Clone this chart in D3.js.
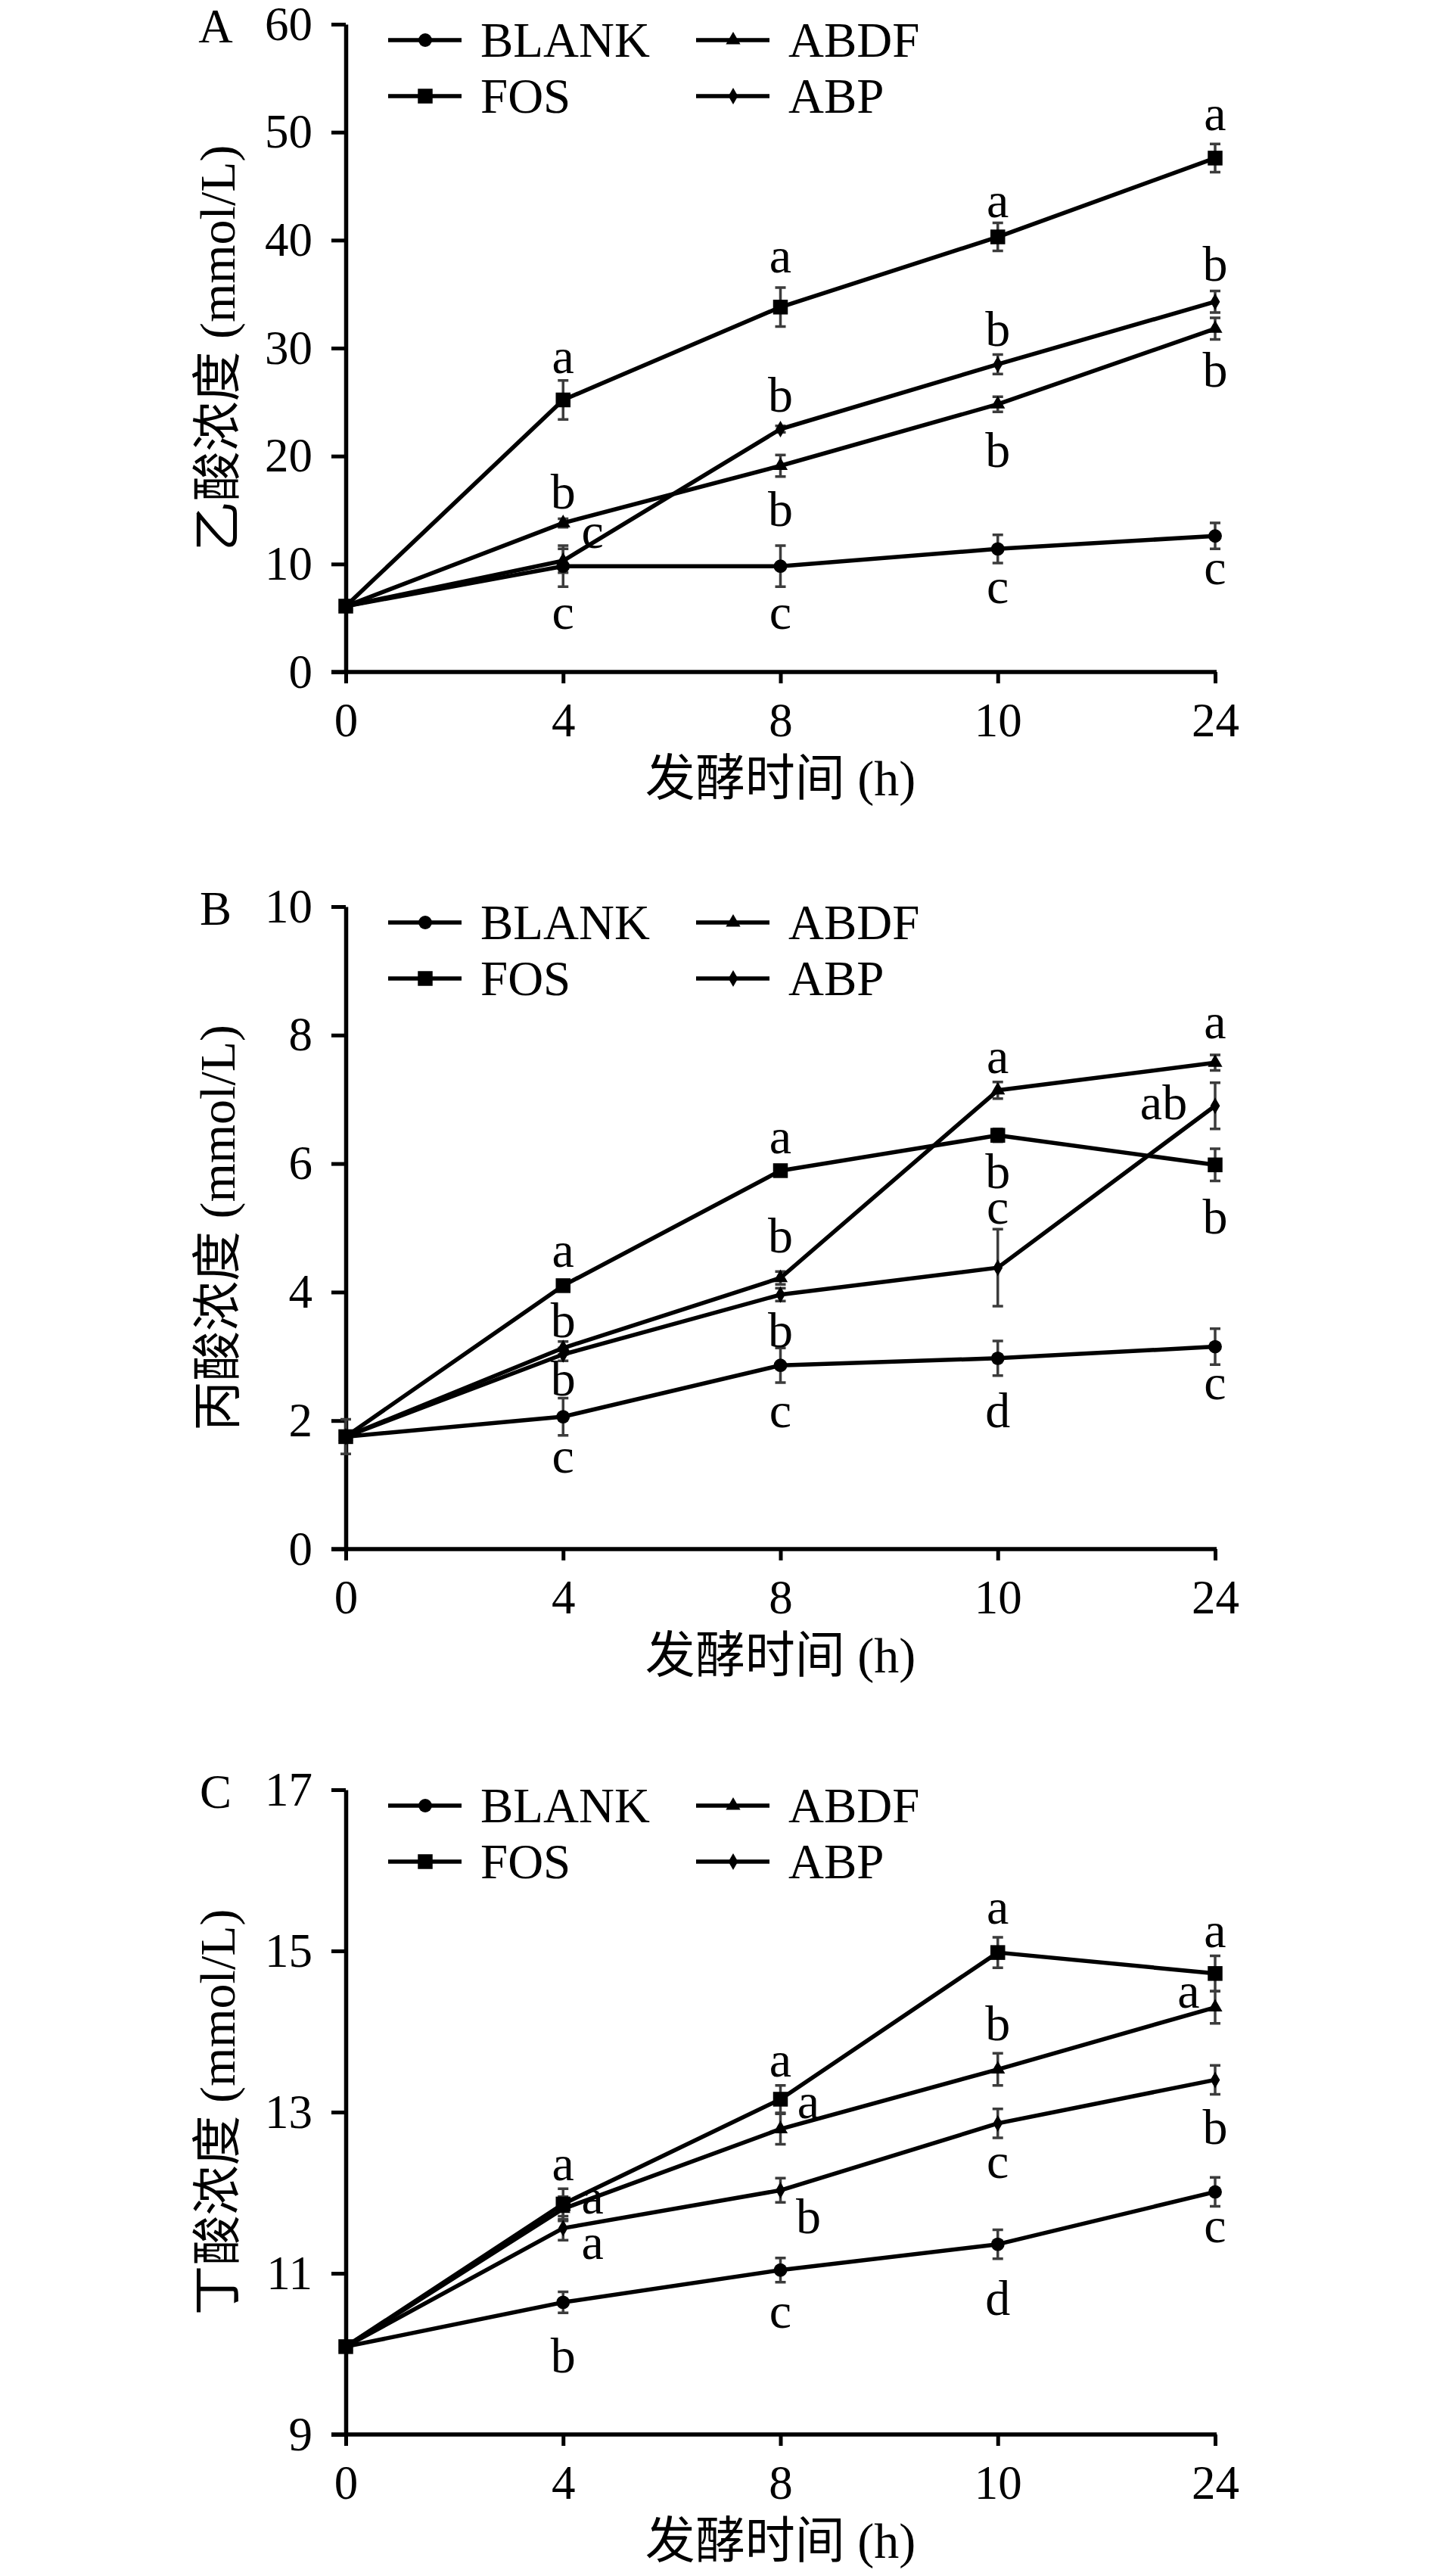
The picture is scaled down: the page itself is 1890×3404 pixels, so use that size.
<!DOCTYPE html>
<html><head><meta charset="utf-8">
<script src="https://cdn.jsdelivr.net/npm/d3@7"></script>
<style>
html,body{margin:0;padding:0;background:#fff;}
svg text{font-family:"Liberation Serif","Times New Roman","Noto Sans CJK SC",serif;fill:#000;}
</style></head>
<body>
<svg id="chart" width="1890" height="3404"></svg>
<script>
// ---------- data ----------
const timeLabels = ["0", "4", "8", "10", "24"];
const seriesNames = ["BLANK", "FOS", "ABDF", "ABP"];

// Panel A: acetic acid (mmol/L)
const aceticBLANK = [6.1, 9.8, 9.8, 11.4, 12.6];
const aceticFOS   = [6.1, 25.2, 33.8, 40.3, 47.6];
const aceticABDF  = [6.1, 13.8, 19.1, 24.8, 31.8];
const aceticABP   = [6.1, 10.3, 22.5, 28.5, 34.3];
const aceticErrBLANK = [0.3, 1.9, 1.9, 1.3, 1.2];
const aceticErrFOS   = [0.3, 1.8, 1.8, 1.3, 1.3];
const aceticErrABDF  = [0.3, 0.4, 1.0, 0.7, 1.0];
const aceticErrABP   = [0.3, 1.1, 0.3, 0.9, 1.0];
const aceticTicks = [0, 10, 20, 30, 40, 50, 60];
// letters: [time, y-value, text, x-shift]
const aceticLetters = [
  ["4", 29.1, "a", 0], ["4", 16.5, "b", 0], ["4", 12.9, "c", 39], ["4", 5.4, "c", 0],
  ["8", 38.4, "a", 0], ["8", 25.5, "b", 0], ["8", 14.9, "b", 0], ["8", 5.4, "c", 0],
  ["10", 43.5, "a", 0], ["10", 31.6, "b", 0], ["10", 20.4, "b", 0], ["10", 7.8, "c", 0],
  ["24", 51.6, "a", 0], ["24", 37.6, "b", 0], ["24", 27.8, "b", 0], ["24", 9.5, "c", 0]
];

// Panel B: propionic acid (mmol/L)
const propBLANK = [1.75, 2.06, 2.86, 2.97, 3.15];
const propFOS   = [1.75, 4.10, 5.89, 6.44, 5.98];
const propABDF  = [1.75, 3.13, 4.22, 7.14, 7.57];
const propABP   = [1.75, 3.03, 3.96, 4.38, 6.90];
const propErrBLANK = [0.27, 0.29, 0.27, 0.27, 0.28];
const propErrFOS   = [0.05, 0.05, 0.05, 0.1, 0.25];
const propErrABDF  = [0.05, 0.1, 0.1, 0.13, 0.12];
const propErrABP   = [0.05, 0.1, 0.1, 0.6, 0.36];
const propTicks = [0, 2, 4, 6, 8, 10];
const propLetters = [
  ["4", 4.63, "a", 0], ["4", 3.53, "b", 0], ["4", 2.63, "b", 0], ["4", 1.42, "c", 0],
  ["8", 6.39, "a", 0], ["8", 4.85, "b", 0], ["8", 3.38, "b", 0], ["8", 2.13, "c", 0],
  ["10", 7.64, "a", 0], ["10", 5.85, "b", 0], ["10", 5.30, "c", 0], ["10", 2.13, "d", 0],
  ["24", 8.18, "a", 0], ["24", 6.92, "ab", -68], ["24", 5.14, "b", 0], ["24", 2.56, "c", 0]
];

// Panel C: butyric acid (mmol/L)
const butBLANK = [10.09, 10.64, 11.04, 11.36, 12.01];
const butFOS   = [10.09, 11.86, 13.16, 14.98, 14.72];
const butABDF  = [10.09, 11.80, 12.79, 13.53, 14.30];
const butABP   = [10.09, 11.56, 12.03, 12.86, 13.40];
const butErrBLANK = [0.05, 0.13, 0.15, 0.18, 0.18];
const butErrFOS   = [0.05, 0.19, 0.17, 0.19, 0.22];
const butErrABDF  = [0.05, 0.15, 0.19, 0.2, 0.2];
const butErrABP   = [0.05, 0.15, 0.15, 0.18, 0.18];
const butTicks = [9, 11, 13, 15, 17];
const butLetters = [
  ["4", 12.34, "a", 0], ["4", 11.93, "a", 39], ["4", 11.36, "a", 39], ["4", 9.96, "b", 0],
  ["8", 13.63, "a", 0], ["8", 13.11, "a", 37], ["8", 11.68, "b", 37], ["8", 10.51, "c", 0],
  ["10", 15.52, "a", 0], ["10", 14.08, "b", 0], ["10", 12.37, "c", 0], ["10", 10.67, "d", 0],
  ["24", 15.23, "a", 0], ["24", 14.48, "a", -35], ["24", 12.79, "b", 0], ["24", 11.57, "c", 0]
];

const xTitle = "发酵时间 (h)";

// ---------- layout ----------
const svg = d3.select("#chart");
const X0 = 457, X1 = 1606;
const FS = 63;
const x = d3.scalePoint().domain(timeLabels).range([X0, X1]);

const symbols = {
  BLANK: d3.symbol().type(d3.symbolCircle).size(250),
  FOS: d3.symbol().type(d3.symbolSquare).size(380),
  ABDF: d3.symbol().type(d3.symbolTriangle).size(160),
  ABP: d3.symbol().type(d3.symbolDiamond).size(140)
};

const panels = [
  {letter: "A", top: 32, bottom: 888, domain: [0, 60], ticks: aceticTicks,
   title: "乙酸浓度 (mmol/L)",
   series: {BLANK: aceticBLANK, FOS: aceticFOS, ABDF: aceticABDF, ABP: aceticABP},
   errors: {BLANK: aceticErrBLANK, FOS: aceticErrFOS, ABDF: aceticErrABDF, ABP: aceticErrABP},
   letters: aceticLetters},
  {letter: "B", top: 1198, bottom: 2047, domain: [0, 10], ticks: propTicks,
   title: "丙酸浓度 (mmol/L)",
   series: {BLANK: propBLANK, FOS: propFOS, ABDF: propABDF, ABP: propABP},
   errors: {BLANK: propErrBLANK, FOS: propErrFOS, ABDF: propErrABDF, ABP: propErrABP},
   letters: propLetters},
  {letter: "C", top: 2365, bottom: 3217, domain: [9, 17], ticks: butTicks,
   title: "丁酸浓度 (mmol/L)",
   series: {BLANK: butBLANK, FOS: butFOS, ABDF: butABDF, ABP: butABP},
   errors: {BLANK: butErrBLANK, FOS: butErrFOS, ABDF: butErrABDF, ABP: butErrABP},
   letters: butLetters}
];

panels.forEach(p => {
  const g = svg.append("g");
  const y = d3.scaleLinear().domain(p.domain).range([p.bottom, p.top]);

  // y axis
  const ya = g.append("g").attr("transform", `translate(${X0},0)`)
    .call(d3.axisLeft(y).tickValues(p.ticks).tickFormat(d3.format("d"))
      .tickSize(19).tickSizeOuter(0).tickPadding(25));
  ya.select(".domain").attr("stroke", "#000").attr("stroke-width", 5.5);
  ya.selectAll(".tick line").attr("stroke", "#000").attr("stroke-width", 5);
  ya.selectAll(".tick text").attr("font-size", FS).attr("font-family", null);

  // x axis
  const xa = g.append("g").attr("transform", `translate(0,${p.bottom})`)
    .call(d3.axisBottom(x).tickSize(15).tickSizeOuter(0).tickPadding(25));
  xa.select(".domain").attr("stroke", "#000").attr("stroke-width", 5.5)
    .attr("d", `M${X0 - 19},0H${X1 + 2}`);
  xa.selectAll(".tick line").attr("stroke", "#000").attr("stroke-width", 5);
  xa.selectAll(".tick text").attr("font-size", FS).attr("font-family", null);

  // panel letter
  g.append("text").attr("x", 285).attr("y", p.top + 4).attr("dy", "0.32em")
    .attr("text-anchor", "middle").attr("font-size", FS).text(p.letter);

  // axis titles
  g.append("text")
    .attr("transform", `translate(310,${(p.top + p.bottom) / 2}) rotate(-90)`)
    .attr("text-anchor", "middle").attr("font-size", 66).text(p.title);
  g.append("text").attr("x", (X0 + X1) / 2).attr("y", p.bottom + 163)
    .attr("text-anchor", "middle").attr("font-size", 66).text(xTitle);

  // error bars
  seriesNames.forEach(s => {
    const vals = p.series[s], errs = p.errors[s];
    const eg = g.append("g").attr("stroke", "#3c3c3c").attr("stroke-width", 3.5).attr("fill", "none");
    timeLabels.forEach((t, i) => {
      const cx = x(t), y1 = y(vals[i] + errs[i]), y2 = y(vals[i] - errs[i]);
      eg.append("path").attr("d", `M${cx},${y1}V${y2}M${cx - 7},${y1}H${cx + 7}M${cx - 7},${y2}H${cx + 7}`);
    });
  });

  // lines
  const line = d3.line().x((d, i) => x(timeLabels[i])).y(d => y(d));
  seriesNames.forEach(s => {
    g.append("path").datum(p.series[s]).attr("d", line)
      .attr("fill", "none").attr("stroke", "#000").attr("stroke-width", 5.5)
      .attr("stroke-linejoin", "round");
  });

  // markers
  seriesNames.forEach(s => {
    g.append("g").selectAll("path").data(p.series[s]).join("path")
      .attr("transform", (d, i) => `translate(${x(timeLabels[i])},${y(d)})`)
      .attr("d", symbols[s]()).attr("fill", "#000");
  });

  // significance letters
  g.append("g").selectAll("text").data(p.letters).join("text")
    .attr("x", d => x(d[0]) + d[3]).attr("y", d => y(d[1])).attr("dy", "0.3em")
    .attr("text-anchor", "middle").attr("font-size", 66).text(d => d[2]);

  // legend
  const leg = g.append("g");
  const legItems = [
    {name: "BLANK", lx: 513, row: 0}, {name: "ABDF", lx: 920, row: 0},
    {name: "FOS", lx: 513, row: 1}, {name: "ABP", lx: 920, row: 1}
  ];
  legItems.forEach(it => {
    const ly = p.top + 21 + it.row * 74;
    leg.append("line").attr("x1", it.lx).attr("x2", it.lx + 97).attr("y1", ly).attr("y2", ly)
      .attr("stroke", "#000").attr("stroke-width", 5.5);
    leg.append("path").attr("transform", `translate(${it.lx + 49},${ly})`)
      .attr("d", symbols[it.name]()).attr("fill", "#000");
    leg.append("text").attr("x", it.lx + 122).attr("y", ly).attr("dy", "0.34em")
      .attr("font-size", 65).text(it.name);
  });
});
</script>
</body></html>
